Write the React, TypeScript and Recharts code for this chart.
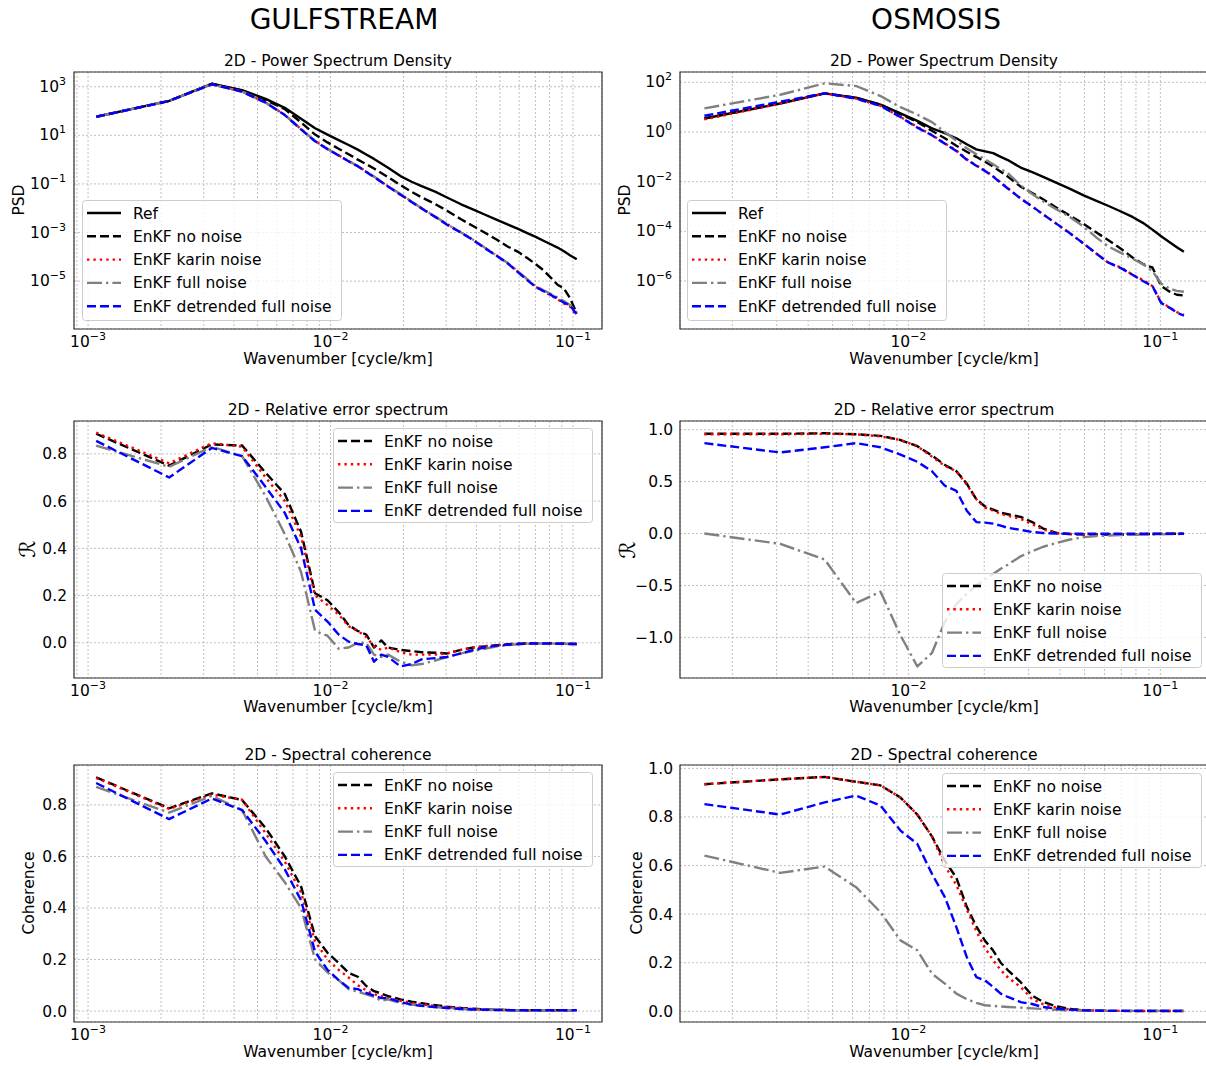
import React from "react";
import {
  LineChart, Line, XAxis, YAxis, CartesianGrid, ReferenceArea, Legend,
} from "recharts";

// ─── DATA: GULFSTREAM ─────────────────────────────────────────────────────────

const gsWavenumber = [
  0.00108, 0.00216, 0.00324, 0.00432, 0.0054, 0.00648, 0.00756, 0.00864, 0.00972, 0.0108,
  0.01188, 0.01296, 0.01404, 0.01512, 0.0162, 0.01728, 0.01944, 0.0216, 0.02376, 0.027,
  0.03024, 0.03456, 0.03888, 0.0432, 0.0486, 0.054, 0.0594, 0.0648, 0.0702, 0.0756,
  0.081, 0.0864, 0.0918, 0.0972, 0.10368,
];

const gsPsdRef = [
  58, 260, 1320, 720, 316, 135, 48, 19.5, 10.7, 6.3, 4.0, 2.57, 1.62, 1.07, 0.69, 0.46,
  0.21, 0.123, 8.1e-2, 4.8e-2, 2.75e-2, 1.45e-2, 8.7e-3, 5.5e-3, 3.3e-3, 2.1e-3, 1.4e-3,
  9.5e-4, 6.6e-4, 4.6e-4, 3.3e-4, 2.4e-4, 1.7e-4, 1.17e-4, 7.9e-5,
];
const gsPsdNoNoise = [
  58, 260, 1320, 690, 280, 120, 34, 10.7, 5.1, 2.8, 1.66, 1.0, 0.65, 0.43, 0.28, 0.19,
  8.9e-2, 4.7e-2, 2.8e-2, 1.5e-2, 7.9e-3, 3.5e-3, 1.8e-3, 1.0e-3, 5.0e-4, 2.6e-4, 1.6e-4,
  8.9e-5, 5.0e-5, 2.8e-5, 1.4e-5, 7.1e-6, 5.0e-6, 2.0e-6, 4.7e-7,
];
const gsPsdKarin = [
  58, 260, 1260, 630, 224, 69, 18, 5.8, 2.75, 1.5, 0.87, 0.54, 0.32, 0.195, 0.123, 7.9e-2,
  3.7e-2, 1.86e-2, 1.0e-2, 4.5e-3, 2.2e-3, 1.0e-3, 4.9e-4, 2.4e-4, 1.1e-4, 5.4e-5, 2.4e-5,
  1.15e-5, 5.9e-6, 3.8e-6, 2.6e-6, 1.8e-6, 1.2e-6, 9.0e-7, 3.6e-7,
];
const gsPsdFull = [
  58, 260, 1260, 630, 224, 69, 18, 5.8, 2.75, 1.5, 0.87, 0.54, 0.32, 0.2, 0.125, 8.0e-2,
  3.8e-2, 1.9e-2, 1.0e-2, 4.6e-3, 2.2e-3, 1.0e-3, 4.9e-4, 2.4e-4, 1.1e-4, 5.4e-5, 2.5e-5,
  1.2e-5, 6.2e-6, 4.2e-6, 3.0e-6, 2.1e-6, 1.5e-6, 1.05e-6, 5.0e-7,
];
const gsPsdDetrended = [
  58, 260, 1260, 620, 220, 68, 17.5, 5.7, 2.7, 1.48, 0.85, 0.53, 0.31, 0.19, 0.12, 7.8e-2,
  3.6e-2, 1.8e-2, 9.8e-3, 4.4e-3, 2.1e-3, 9.8e-4, 4.8e-4, 2.3e-4, 1.08e-4, 5.2e-5, 2.3e-5,
  1.1e-5, 5.7e-6, 3.9e-6, 2.7e-6, 1.9e-6, 1.3e-6, 1.0e-6, 4.3e-7,
];

const gsRelNoNoise = [
  0.885, 0.75, 0.84, 0.835, 0.72, 0.63, 0.47, 0.21, 0.18, 0.13, 0.075, 0.05, 0.035, -0.02, 0.01, -0.02,
  -0.03, -0.035, -0.04, -0.042, -0.045, -0.03, -0.02, -0.015, -0.01, -0.006, -0.004, -0.003, -0.002,
  -0.002, -0.002, -0.003, -0.003, -0.004, -0.005,
];
const gsRelKarin = [
  0.89, 0.76, 0.845, 0.83, 0.7, 0.6, 0.45, 0.2, 0.16, 0.12, 0.07, 0.05, 0.025, -0.015, -0.03, -0.02,
  -0.04, -0.05, -0.05, -0.05, -0.045, -0.03, -0.02, -0.015, -0.01, -0.006, -0.004, -0.003, -0.002,
  -0.002, -0.002, -0.003, -0.003, -0.004, -0.005,
];
const gsRelFull = [
  0.835, 0.745, 0.83, 0.79, 0.62, 0.46, 0.3, 0.05, 0.03, -0.025, -0.02, 0.0, 0.0, -0.05, -0.06, -0.05,
  -0.08, -0.095, -0.09, -0.075, -0.06, -0.045, -0.035, -0.025, -0.015, -0.01, -0.006, -0.004, -0.003,
  -0.003, -0.003, -0.004, -0.004, -0.005, -0.006,
];
const gsRelDetrended = [
  0.855, 0.7, 0.825, 0.79, 0.66, 0.55, 0.4, 0.14, 0.09, 0.035, 0.005, -0.005, -0.01, -0.08, -0.05, -0.06,
  -0.1, -0.09, -0.07, -0.065, -0.06, -0.045, -0.03, -0.02, -0.012, -0.008, -0.005, -0.003, -0.003,
  -0.003, -0.003, -0.004, -0.004, -0.005, -0.005,
];

const gsCohNoNoise = [
  0.907, 0.787, 0.845, 0.819, 0.71, 0.6, 0.484, 0.29, 0.226, 0.187, 0.148, 0.133, 0.097, 0.077, 0.068, 0.058,
  0.045, 0.036, 0.03, 0.023, 0.017, 0.012, 0.009, 0.006, 0.005, 0.004, 0.003, 0.003, 0.003, 0.003,
  0.003, 0.003, 0.003, 0.003, 0.003,
];
const gsCohKarin = [
  0.905, 0.785, 0.84, 0.82, 0.69, 0.58, 0.46, 0.27, 0.2, 0.16, 0.13, 0.1, 0.08, 0.065, 0.058, 0.05,
  0.04, 0.032, 0.026, 0.02, 0.015, 0.011, 0.008, 0.006, 0.005, 0.004, 0.003, 0.003, 0.003, 0.003,
  0.003, 0.003, 0.003, 0.003, 0.003,
];
const gsCohFull = [
  0.87, 0.77, 0.835, 0.78, 0.6, 0.5, 0.4, 0.2, 0.15, 0.12, 0.085, 0.075, 0.065, 0.055, 0.04, 0.045,
  0.03, 0.025, 0.02, 0.015, 0.012, 0.008, 0.006, 0.005, 0.004, 0.003, 0.003, 0.003, 0.003, 0.003,
  0.003, 0.003, 0.003, 0.003, 0.003,
];
const gsCohDetrended = [
  0.885, 0.745, 0.825, 0.78, 0.66, 0.55, 0.43, 0.23, 0.16, 0.12, 0.09, 0.085, 0.07, 0.06, 0.05, 0.05,
  0.035, 0.025, 0.02, 0.015, 0.012, 0.008, 0.006, 0.005, 0.004, 0.003, 0.003, 0.003, 0.003, 0.003,
  0.003, 0.003, 0.003, 0.003, 0.003,
];

// ─── DATA: OSMOSIS ────────────────────────────────────────────────────────────

const osWavenumber = [
  0.00155, 0.0031, 0.00465, 0.0062, 0.00775, 0.0093, 0.01085, 0.0124, 0.01395, 0.0155,
  0.01705, 0.0186, 0.02015, 0.0217, 0.02325, 0.0248, 0.0279, 0.031, 0.0341, 0.03875,
  0.0434, 0.0496, 0.0558, 0.062, 0.06975, 0.0775, 0.08525, 0.093, 0.10075, 0.1085,
  0.11625, 0.124,
];

const osPsdRef = [
  3.5, 14, 36, 24, 12.6, 5.6, 2.8, 1.41, 0.89, 0.56, 0.32, 0.2, 0.166, 0.141, 0.1, 7.4e-2,
  3.7e-2, 2.4e-2, 1.6e-2, 8.9e-3, 5.4e-3, 2.8e-3, 1.7e-3, 1.07e-3, 6.3e-4, 3.8e-4, 2.2e-4,
  1.17e-4, 6.3e-5, 3.7e-5, 2.3e-5, 1.5e-5,
];
const osPsdNoNoise = [
  3.5, 14.8, 36, 24, 12.6, 5.2, 2.5, 1.12, 0.56, 0.28, 0.16, 0.1, 6.3e-2, 4.0e-2, 2.5e-2, 1.6e-2,
  6.3e-3, 3.5e-3, 2.0e-3, 8.9e-4, 4.5e-4, 2.0e-4, 8.9e-5, 4.5e-5, 2.0e-5, 8.9e-6, 4.8e-6,
  3.5e-6, 6.3e-7, 3.8e-7, 2.8e-7, 2.6e-7,
];
const osPsdKarin = [
  3.2, 14, 36, 22, 11.2, 4.0, 1.58, 0.76, 0.35, 0.18, 7.9e-2, 4.5e-2, 2.8e-2, 1.66e-2, 9.3e-3, 5.5e-3,
  2.1e-3, 1.0e-3, 5.0e-4, 2.0e-4, 8.9e-5, 3.2e-5, 1.26e-5, 5.6e-6, 3.5e-6, 1.8e-6, 1.1e-6,
  6.3e-7, 1.4e-7, 8.9e-8, 5.6e-8, 4.3e-8,
];
const osPsdFull = [
  8.9, 31.6, 91, 71, 28, 10, 5.0, 2.5, 1.0, 0.45, 0.22, 0.126, 7.9e-2, 5.0e-2, 3.2e-2, 2.2e-2,
  7.1e-3, 3.2e-3, 1.66e-3, 7.6e-4, 4.0e-4, 1.55e-4, 5.6e-5, 2.5e-5, 1.35e-5, 7.9e-6, 4.8e-6,
  2.5e-6, 7.9e-7, 5.0e-7, 4.0e-7, 3.7e-7,
];
const osPsdDetrended = [
  4.5, 16.6, 36, 22, 11.2, 4.0, 1.5, 0.74, 0.34, 0.17, 7.6e-2, 4.4e-2, 2.7e-2, 1.6e-2, 9.0e-3, 5.3e-3,
  2.1e-3, 1.0e-3, 5.0e-4, 2.0e-4, 8.9e-5, 3.2e-5, 1.26e-5, 5.6e-6, 3.3e-6, 1.8e-6, 1.0e-6,
  6.3e-7, 1.3e-7, 8.5e-8, 5.4e-8, 4.0e-8,
];

const osRelNoNoise = [
  0.96, 0.96, 0.965, 0.955, 0.94, 0.9, 0.84, 0.75, 0.66, 0.6, 0.48, 0.33, 0.26, 0.23, 0.2, 0.185,
  0.16, 0.11, 0.05, 0.005, -0.005, -0.01, -0.01, -0.01, -0.01, -0.008, -0.006, -0.005, -0.004,
  -0.003, -0.002, -0.002,
];
const osRelKarin = [
  0.955, 0.955, 0.96, 0.955, 0.935, 0.9, 0.84, 0.74, 0.65, 0.6, 0.47, 0.33, 0.25, 0.22, 0.19, 0.17,
  0.14, 0.09, 0.04, 0.005, -0.005, -0.008, -0.008, -0.008, -0.008, -0.006, -0.005, -0.004, -0.003,
  -0.002, -0.002, -0.002,
];
const osRelFull = [
  0.0, -0.1, -0.25, -0.67, -0.56, -0.98, -1.28, -1.15, -0.85, -0.68, -0.58, -0.5, -0.44, -0.39, -0.34, -0.3,
  -0.22, -0.17, -0.13, -0.09, -0.06, -0.035, -0.025, -0.02, -0.015, -0.012, -0.01, -0.01, -0.008,
  -0.006, -0.005, -0.005,
];
const osRelDetrended = [
  0.87, 0.78, 0.83, 0.87, 0.83, 0.76, 0.69, 0.6, 0.46, 0.41, 0.22, 0.11, 0.105, 0.095, 0.075, 0.055,
  0.035, 0.015, 0.005, 0.0, -0.003, -0.003, -0.003, -0.003, -0.003, -0.002, -0.002, -0.002, -0.002,
  -0.002, -0.002, -0.002,
];

const osCohNoNoise = [
  0.935, 0.955, 0.965, 0.945, 0.93, 0.88, 0.81, 0.72, 0.62, 0.55, 0.43, 0.35, 0.29, 0.25, 0.2, 0.17,
  0.12, 0.065, 0.04, 0.02, 0.01, 0.005, 0.003, 0.002, 0.002, 0.001, 0.001, 0.001, 0.001, 0.001,
  0.001, 0.001,
];
const osCohKarin = [
  0.935, 0.955, 0.965, 0.945, 0.93, 0.88, 0.81, 0.72, 0.6, 0.52, 0.42, 0.33, 0.26, 0.21, 0.17, 0.14,
  0.1, 0.05, 0.03, 0.015, 0.008, 0.004, 0.003, 0.002, 0.002, 0.001, 0.001, 0.001, 0.001, 0.001,
  0.001, 0.001,
];
const osCohFull = [
  0.641, 0.57, 0.596, 0.511, 0.408, 0.292, 0.251, 0.155, 0.114, 0.073, 0.05, 0.035, 0.025, 0.022, 0.02, 0.018,
  0.015, 0.012, 0.01, 0.006, 0.004, 0.003, 0.002, 0.002, 0.002, 0.002, 0.002, 0.002, 0.002, 0.002,
  0.002, 0.002,
];
const osCohDetrended = [
  0.853, 0.81, 0.86, 0.888, 0.847, 0.744, 0.689, 0.566, 0.47, 0.347, 0.223, 0.141, 0.127, 0.1, 0.073, 0.059,
  0.038, 0.03, 0.018, 0.011, 0.007, 0.004, 0.003, 0.002, 0.002, 0.002, 0.002, 0.002, 0.002, 0.002,
  0.002, 0.002,
];

// ─── TICKS ────────────────────────────────────────────────────────────────────

const gsXTicks = [
  0.0009, 0.001, 0.002, 0.003, 0.004, 0.005, 0.006, 0.007, 0.008, 0.009,
  0.01, 0.02, 0.03, 0.04, 0.05, 0.06, 0.07, 0.08, 0.09, 0.1,
];
const osXTicks = [
  0.002, 0.003, 0.004, 0.005, 0.006, 0.007, 0.008, 0.009,
  0.01, 0.02, 0.03, 0.04, 0.05, 0.06, 0.07, 0.08, 0.09, 0.1,
];
const X_MAJORS = [
  { value: 0.001, exp: "\u22123" },
  { value: 0.01, exp: "\u22122" },
  { value: 0.1, exp: "\u22121" },
];
const gsPsdTicks = [1e-5, 1e-3, 1e-1, 1e1, 1e3];
const osPsdTicks = [1e-6, 1e-4, 1e-2, 1, 1e2];
const gsRelTicks = [0, 0.2, 0.4, 0.6, 0.8];
const osRelTicks = [-1, -0.5, 0, 0.5, 1];
const gsCohTicks = [0, 0.2, 0.4, 0.6, 0.8];
const osCohTicks = [0, 0.2, 0.4, 0.6, 0.8, 1.0];

// ─── SERIES STYLE ─────────────────────────────────────────────────────────────

const FONT = '"DejaVu Sans", sans-serif';
const LW = 2.4;
const TOP_PAD = 12; // room above the frame for the top tick label

const SERIES = [
  { key: "ref", name: "Ref", color: "#000000", dash: undefined as string | undefined },
  { key: "noNoise", name: "EnKF no noise", color: "#000000", dash: "9 4" },
  { key: "karin", name: "EnKF karin noise", color: "#ff0000", dash: "2.4 4" },
  { key: "full", name: "EnKF full noise", color: "#808080", dash: "15 4 2.4 4" },
  { key: "detrended", name: "EnKF detrended full noise", color: "#0000ff", dash: "9 4" },
];
const ENKF = SERIES.slice(1);

function build(k: number[], cols: Record<string, number[]>) {
  return k.map((x, i) => {
    const row: Record<string, number> = { k: x };
    for (const name of Object.keys(cols)) row[name] = cols[name][i];
    return row;
  });
}

const gsPsd = build(gsWavenumber, { ref: gsPsdRef, noNoise: gsPsdNoNoise, karin: gsPsdKarin, full: gsPsdFull, detrended: gsPsdDetrended });
const gsRel = build(gsWavenumber, { noNoise: gsRelNoNoise, karin: gsRelKarin, full: gsRelFull, detrended: gsRelDetrended });
const gsCoh = build(gsWavenumber, { noNoise: gsCohNoNoise, karin: gsCohKarin, full: gsCohFull, detrended: gsCohDetrended });
const osPsd = build(osWavenumber, { ref: osPsdRef, noNoise: osPsdNoNoise, karin: osPsdKarin, full: osPsdFull, detrended: osPsdDetrended });
const osRel = build(osWavenumber, { noNoise: osRelNoNoise, karin: osRelKarin, full: osRelFull, detrended: osRelDetrended });
const osCoh = build(osWavenumber, { noNoise: osCohNoNoise, karin: osCohKarin, full: osCohFull, detrended: osCohDetrended });

// ─── TICK RENDERERS ───────────────────────────────────────────────────────────

function LogXTick({ x, y, payload }: any) {
  const major = X_MAJORS.find((m) => Math.abs(m.value - payload.value) < m.value * 1e-6);
  if (!major) return <g />;
  return (
    <text x={x} y={y + 18} textAnchor="middle" fontSize={15.5} fontFamily={FONT} fill="#000">
      <tspan>10</tspan>
      <tspan dy={-7} fontSize={11}>{major.exp}</tspan>
    </text>
  );
}

function LogYTick({ x, y, payload }: any) {
  const e = Math.round(Math.log10(payload.value));
  const label = e < 0 ? `\u2212${-e}` : `${e}`;
  return (
    <text x={x - 8} y={y + 5} textAnchor="end" fontSize={15.5} fontFamily={FONT} fill="#000">
      <tspan>10</tspan>
      <tspan dy={-7} fontSize={11}>{label}</tspan>
    </text>
  );
}

function LinYTick({ x, y, payload }: any) {
  const v = payload.value as number;
  const label = (v < 0 ? "\u2212" : "") + Math.abs(v).toFixed(1);
  return (
    <text x={x - 7} y={y + 5.5} textAnchor="end" fontSize={15.5} fontFamily={FONT} fill="#000">
      {label}
    </text>
  );
}

// ─── LEGEND ───────────────────────────────────────────────────────────────────

function LegendBox({ items }: { items: typeof SERIES }) {
  const w = 260;
  const h = items.length === 5 ? 121 : 95;
  return (
    <svg width={w} height={h} style={{ display: "block" }}>
      <rect x={0.5} y={0.5} width={w - 1} height={h - 1} rx={3} fill="#ffffff" fillOpacity={0.8} stroke="#cccccc" />
      {items.map((s, i) => {
        const cy = 13 + i * 23.3;
        return (
          <g key={s.key}>
            <line x1={5} x2={39} y1={cy} y2={cy} stroke={s.color} strokeWidth={LW} strokeDasharray={s.dash} />
            <text x={51} y={cy + 5.5} fontSize={15.5} fontFamily={FONT} fill="#000">{s.name}</text>
          </g>
        );
      })}
    </svg>
  );
}

// ─── PANEL ────────────────────────────────────────────────────────────────────

interface PanelProps {
  left: number;
  top: number;
  width: number;
  marginLeft: number;
  data: Record<string, number>[];
  series: typeof SERIES;
  xDomain: [number, number];
  xTicks: number[];
  yLog: boolean;
  yDomain: [number, number];
  yTicks: number[];
  legend: { left: number; top: number };
}

function Panel(p: PanelProps) {
  return (
    <div style={{ position: "absolute", left: p.left, top: p.top - TOP_PAD }}>
      <LineChart width={p.width} height={302 + TOP_PAD} data={p.data} margin={{ top: TOP_PAD, right: 4, bottom: 0, left: p.marginLeft }}>
        <CartesianGrid stroke="#b0b0b0" strokeDasharray="2 2" strokeWidth={0.8} />
        <XAxis
          dataKey="k" type="number" scale="log" domain={p.xDomain} allowDataOverflow
          ticks={p.xTicks} interval={0} height={45}
          axisLine={false} tickLine={false} tickSize={0} tickMargin={0}
          tick={<LogXTick />}
        />
        <YAxis
          type="number" scale={p.yLog ? "log" : "linear"} domain={p.yDomain} allowDataOverflow
          ticks={p.yTicks} interval={0} width={60}
          axisLine={false} tickLine={false} tickSize={0} tickMargin={0}
          tick={p.yLog ? <LogYTick /> : <LinYTick />}
        />
        {p.series.map((s) => (
          <Line
            key={s.key} dataKey={s.key} name={s.name} type="linear"
            stroke={s.color} strokeWidth={LW} strokeDasharray={s.dash}
            strokeLinejoin="round" dot={false} activeDot={false}
            isAnimationActive={false}
          />
        ))}
        <ReferenceArea
          x1={p.xDomain[0]} x2={p.xDomain[1]} y1={p.yDomain[0]} y2={p.yDomain[1]}
          fill="none" fillOpacity={0} stroke="#333333" strokeWidth={1.2} ifOverflow="visible"
        />
        <Legend
          layout="vertical" align="center" verticalAlign="middle"
          wrapperStyle={{ left: p.legend.left, top: p.legend.top + TOP_PAD, width: 260 }}
          content={() => <LegendBox items={p.series} />}
        />
      </LineChart>
    </div>
  );
}

function Txt({ x, y, size = 15.5, rotate = false, children }: { x: number; y: number; size?: number; rotate?: boolean; children: React.ReactNode }) {
  return (
    <div
      style={{
        position: "absolute", left: x, top: y, fontSize: size, lineHeight: 1,
        whiteSpace: "nowrap", color: "#000",
        transform: `translate(-50%, -50%)${rotate ? " rotate(-90deg)" : ""}`,
      }}
    >
      {children}
    </div>
  );
}

// ─── APP ──────────────────────────────────────────────────────────────────────

const GS_X: [number, number] = [0.000875, 0.1318];
const OS_X: [number, number] = [0.00124, 0.156];

export default function App() {
  const L = { left: 0, width: 606, marginLeft: 14 };
  const R = { left: 600, width: 613, marginLeft: 20 };
  return (
    <div
      style={{
        position: "absolute", left: 0, top: 0, width: 1206, height: 1066,
        overflow: "hidden", background: "#ffffff", fontFamily: FONT,
      }}
    >
      <Txt x={344} y={20} size={28}>GULFSTREAM</Txt>
      <Txt x={936} y={20} size={28}>OSMOSIS</Txt>

      {/* Row 1 – PSD */}
      <Panel {...L} top={72} data={gsPsd} series={SERIES} xDomain={GS_X} xTicks={gsXTicks}
        yLog yDomain={[1.07e-7, 4030]} yTicks={gsPsdTicks} legend={{ left: 82, top: 128 }} />
      <Panel {...R} top={72} data={osPsd} series={SERIES} xDomain={OS_X} xTicks={osXTicks}
        yLog yDomain={[1.17e-8, 260]} yTicks={osPsdTicks} legend={{ left: 87, top: 128 }} />
      <Txt x={338} y={62}>2D - Power Spectrum Density</Txt>
      <Txt x={944} y={62}>2D - Power Spectrum Density</Txt>
      <Txt x={338} y={360}>Wavenumber [cycle/km]</Txt>
      <Txt x={944} y={360}>Wavenumber [cycle/km]</Txt>
      <Txt x={20} y={200} rotate>PSD</Txt>
      <Txt x={626} y={200} rotate>PSD</Txt>

      {/* Row 2 – Relative error */}
      <Panel {...L} top={421} data={gsRel} series={ENKF} xDomain={GS_X} xTicks={gsXTicks}
        yLog={false} yDomain={[-0.149, 0.939]} yTicks={gsRelTicks} legend={{ left: 333, top: 7 }} />
      <Panel {...R} top={421} data={osRel} series={ENKF} xDomain={OS_X} xTicks={osXTicks}
        yLog={false} yDomain={[-1.391, 1.083]} yTicks={osRelTicks} legend={{ left: 342, top: 152 }} />
      <Txt x={338} y={411}>2D - Relative error spectrum</Txt>
      <Txt x={944} y={411}>2D - Relative error spectrum</Txt>
      <Txt x={338} y={708}>Wavenumber [cycle/km]</Txt>
      <Txt x={944} y={708}>Wavenumber [cycle/km]</Txt>
      <Txt x={28} y={549} size={22} rotate>{"\u211B"}</Txt>
      <Txt x={628} y={550} size={22} rotate>{"\u211B"}</Txt>

      {/* Row 3 – Coherence */}
      <Panel {...L} top={765} data={gsCoh} series={ENKF} xDomain={GS_X} xTicks={gsXTicks}
        yLog={false} yDomain={[-0.0426, 0.955]} yTicks={gsCohTicks} legend={{ left: 333, top: 7 }} />
      <Panel {...R} top={765} data={osCoh} series={ENKF} xDomain={OS_X} xTicks={osXTicks}
        yLog={false} yDomain={[-0.044, 1.014]} yTicks={osCohTicks} legend={{ left: 342, top: 8 }} />
      <Txt x={338} y={756}>2D - Spectral coherence</Txt>
      <Txt x={944} y={756}>2D - Spectral coherence</Txt>
      <Txt x={338} y={1053}>Wavenumber [cycle/km]</Txt>
      <Txt x={944} y={1053}>Wavenumber [cycle/km]</Txt>
      <Txt x={30} y={893} rotate>Coherence</Txt>
      <Txt x={638} y={893} rotate>Coherence</Txt>
    </div>
  );
}
